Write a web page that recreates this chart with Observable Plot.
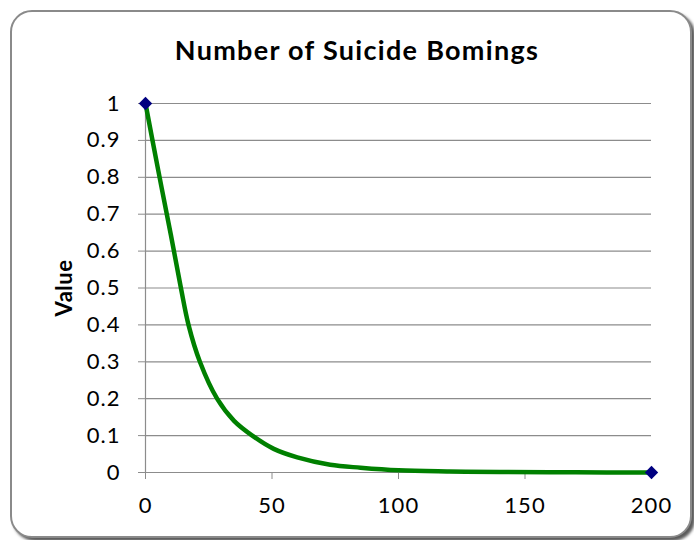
<!DOCTYPE html>
<html>
<head>
<meta charset="utf-8">
<script src="https://cdn.jsdelivr.net/npm/d3@7"></script>
<script src="https://cdn.jsdelivr.net/npm/@observablehq/plot@0.6"></script>
<style>
  html, body { margin: 0; padding: 0; background: #fff; }
  #wrap { position: relative; width: 694px; height: 540px; overflow: hidden; font-family: Lato, "Open Sans", sans-serif; }
  #frame { position: absolute; left: 10px; top: 10px; width: 678px; height: 524px; border: 2px solid #8a8a8a; border-radius: 22px; box-shadow: 3px 3px 3px rgba(0,0,0,0.65); background: #fff; }
  #title { position: absolute; left: 16px; width: 682px; top: 33px; text-align: center; font-weight: bold; font-size: 27px; letter-spacing: 1.3px; color: #000; }
  #ylabel { position: absolute; left: 63px; top: 288px; transform: translate(-50%, -50%) rotate(-90deg); font-weight: bold; font-size: 22px; letter-spacing: 0.5px; color: #000; white-space: nowrap; }
  #chart { position: absolute; left: 0; top: 0; }
  #chart svg text { letter-spacing: 1px; }
</style>
</head>
<body>
<div id="wrap">
  <div id="frame"></div>
  <div id="chart"></div>
  <div id="title">Number of Suicide Bomings</div>
  <div id="ylabel">Value</div>
</div>
<script>
const xValues = [0, 5, 10, 14, 17, 21.5, 28.3, 35, 42.2, 50.7, 60, 73, 85, 100, 120, 140, 170, 200];
const yValues = [1, 0.82, 0.645, 0.50, 0.40, 0.30, 0.20, 0.14, 0.10, 0.064, 0.041, 0.021, 0.013, 0.006, 0.003, 0.0015, 0.0005, 0];
const markerX = [0, 200];
const markerY = [1, 0];
const xTicks = [0, 50, 100, 150, 200];
const yTicks = [0, 0.1, 0.2, 0.3, 0.4, 0.5, 0.6, 0.7, 0.8, 0.9, 1];

const curve = xValues.map((x, i) => ({x, y: yValues[i]}));
const markers = markerX.map((x, i) => ({x, y: markerY[i]}));
const grey = "#8c8c8c";

const chart = Plot.plot({
  width: 694,
  height: 540,
  marginLeft: 145,
  marginRight: 43,
  marginTop: 103,
  marginBottom: 68,
  style: {fontFamily: "Lato, 'Open Sans', sans-serif", fontSize: "22px", color: "#000", background: "transparent"},
  x: {domain: [0, 200], label: null},
  y: {domain: [0, 1], label: null},
  marks: [
    Plot.gridY(yTicks.filter(d => d > 0), {stroke: grey, strokeOpacity: 1, strokeWidth: 1.2}),
    Plot.axisY(yTicks, {tickSize: 7, tickPadding: 18, stroke: grey, strokeOpacity: 1, tickFormat: d => String(d), fontSize: 22, label: null}),
    Plot.axisX(xTicks, {tickSize: 7, tickPadding: 18, stroke: grey, strokeOpacity: 1, tickFormat: d => String(d), fontSize: 22, label: null}),
    Plot.ruleX([0], {stroke: grey, strokeWidth: 1.2}),
    Plot.ruleY([0], {stroke: grey, strokeWidth: 1.2}),
    Plot.line(curve, {x: "x", y: "y", stroke: "#008000", strokeWidth: 4.5, curve: "catmull-rom"}),
    Plot.dot(markers, {x: "x", y: "y", symbol: "diamond2", r: 6, fill: "#000080", stroke: "none"})
  ]
});
document.getElementById("chart").appendChild(chart);
</script>
</body>
</html>
